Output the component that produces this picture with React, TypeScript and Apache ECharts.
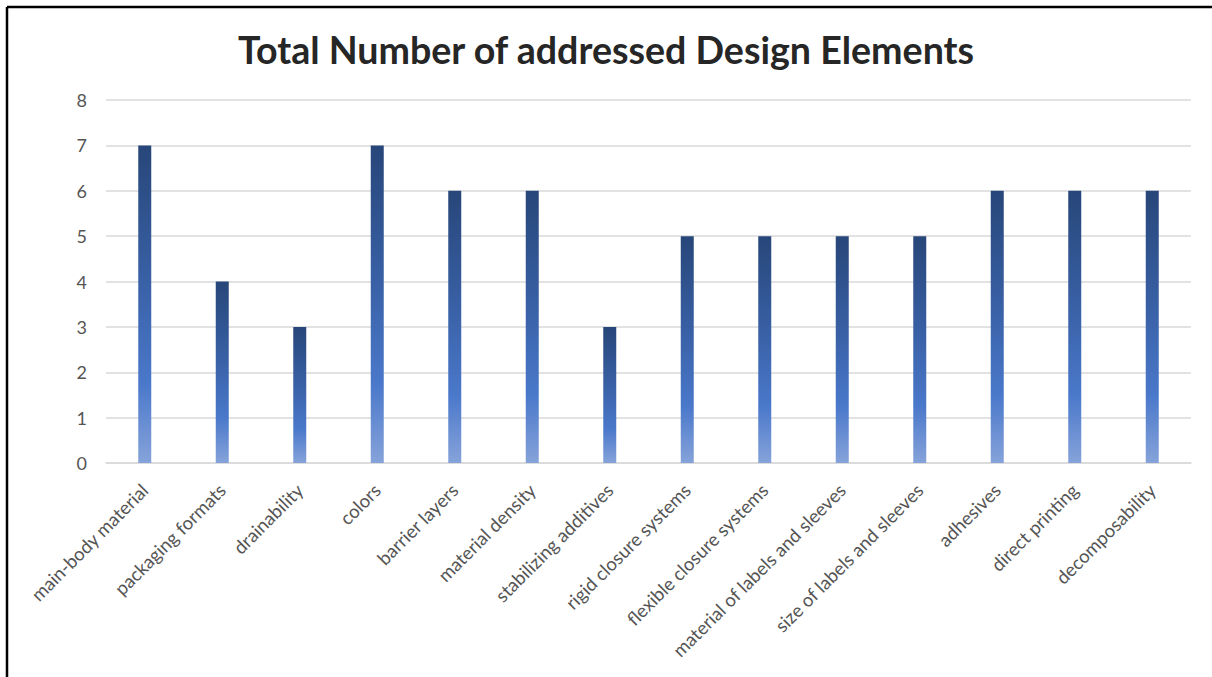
import React, { useEffect, useRef } from "react";
import * as echarts from "echarts";

const categories = [
  "main-body material",
  "packaging formats",
  "drainability",
  "colors",
  "barrier layers",
  "material density",
  "stabilizing additives",
  "rigid closure systems",
  "flexible closure systems",
  "material of labels and sleeves",
  "size of labels and sleeves",
  "adhesives",
  "direct printing",
  "decomposability",
];
const values = [7, 4, 3, 7, 6, 6, 3, 5, 5, 5, 5, 6, 6, 6];
const title = "Total Number of addressed Design Elements";

export default function App() {
  const ref = useRef<HTMLDivElement>(null);
  useEffect(() => {
    if (!ref.current) return;
    const chart = echarts.init(ref.current, undefined, { renderer: "svg" });
    chart.setOption({
      animation: false,
      backgroundColor: "#ffffff",
      title: {
        text: title,
        left: "center",
        top: 25,
        textStyle: {
          fontFamily: "Lato",
          fontWeight: "bold",
          fontSize: 37.6,
          color: "#262626",
        },
      },
      grid: { left: 106, right: 21, top: 100, bottom: 214, containLabel: false },
      xAxis: {
        type: "category",
        data: categories,
        axisLine: { show: true, lineStyle: { color: "#D9D9D9", width: 1.5 } },
        axisTick: { show: false },
        axisLabel: {
          rotate: 45,
          interval: 0,
          margin: 24,
          fontFamily: "Lato",
          fontSize: 18.5,
          color: "#555555",
        },
      },
      yAxis: {
        type: "value",
        min: 0,
        max: 8,
        interval: 1,
        axisLine: { show: false },
        axisTick: { show: false },
        axisLabel: {
          margin: 19,
          fontFamily: "Lato",
          fontSize: 18,
          color: "#555555",
        },
        splitLine: { lineStyle: { color: "#D9D9D9", width: 1.5 } },
      },
      series: [
        {
          type: "bar",
          data: values,
          barWidth: 13,
          itemStyle: {
            color: new echarts.graphic.LinearGradient(0, 0, 0, 1, [
              { offset: 0, color: "#274679" },
              { offset: 0.45, color: "#3A62A8" },
              { offset: 0.75, color: "#4A78CA" },
              { offset: 1, color: "#86A3DA" },
            ]),
          },
        },
      ],
      graphic: [
        {
          type: "line",
          shape: { x1: 7, y1: 7, x2: 1212, y2: 7 },
          style: { stroke: "#000000", lineWidth: 2.5 },
        },
        {
          type: "line",
          shape: { x1: 7, y1: 7, x2: 7, y2: 677 },
          style: { stroke: "#000000", lineWidth: 2.5 },
        },
      ],
    });
    return () => chart.dispose();
  }, []);
  return (
    <div
      ref={ref}
      style={{ position: "fixed", left: 0, top: 0, width: 1212, height: 677 }}
    />
  );
}
